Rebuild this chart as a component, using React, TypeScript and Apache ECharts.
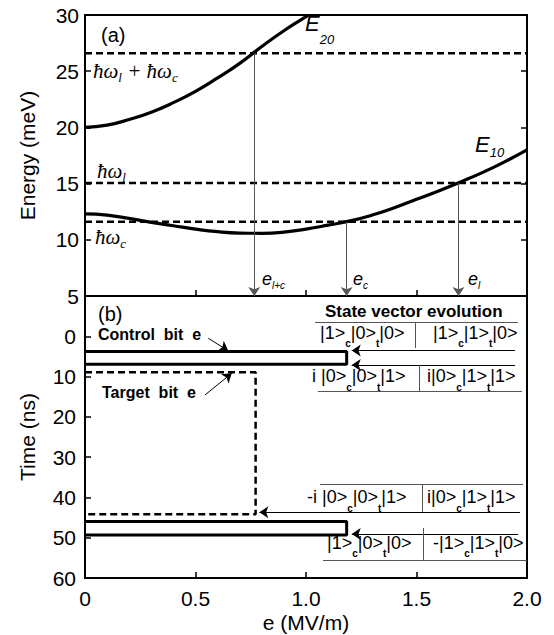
import React, { useEffect, useRef } from "react";
import * as echarts from "echarts";

// ---------- data ----------
const FIELD_E10 = [0, 0.1, 0.2, 0.3, 0.4, 0.5, 0.6, 0.7, 0.8, 0.9, 1.0, 1.1, 1.2, 1.3, 1.4, 1.5, 1.6, 1.7, 1.8, 1.9, 2.0];
const ENERGY_E10 = [12.3, 12.2, 11.9, 11.55, 11.25, 10.95, 10.72, 10.6, 10.58, 10.68, 10.95, 11.3, 11.68, 12.2, 12.85, 13.6, 14.35, 15.15, 16.0, 16.95, 18.0];
const FIELD_E20 = [0, 0.1, 0.2, 0.3, 0.4, 0.5, 0.6, 0.7, 0.8, 0.9, 1.0, 1.01];
const ENERGY_E20 = [20.0, 20.2, 20.7, 21.35, 22.2, 23.2, 24.4, 25.7, 27.2, 28.6, 29.85, 30.0];

// photon energies: ħω_l+ħω_c, ħω_l, ħω_c
const LEVEL_ENERGIES = [26.6, 15.05, 11.6];
// resonance fields e_{l+c}, e_c, e_l and the energies they start from
const RESONANCE_FIELDS = [0.766, 1.184, 1.69];
const RESONANCE_ENERGIES = [26.6, 11.6, 15.05];

const ENERGY_TICKS = [5, 30, 5]; // min, max, step
const TIME_TICKS = [-10, 60, 10];
const FIELD_TICKS = [0, 2, 0.5];

// pulses: [field e, time t]
const CONTROL_PULSE_A = [[0, 3.8], [1.184, 3.8], [1.184, 6.95], [0, 6.95]];
const TARGET_PULSE = [[0, 8.95], [0.772, 8.95], [0.772, 44.2], [0, 44.2]];
const CONTROL_PULSE_B = [[0, 46.0], [1.184, 46.0], [1.184, 49.3], [0, 49.3]];

const PULSE_ARROWS = [
  [[1.946, 3.55], [1.207, 3.55]],
  [[1.946, 7.1], [1.207, 7.1]],
  [[1.968, 43.7], [0.789, 43.7]],
  [[1.96, 49.1], [1.207, 49.1]],
];
const LABEL_ARROWS = [
  [[0.558, 0.5], [0.648, 3.57]],
  [[0.543, 14.57], [0.664, 9.18]],
];
const TABLE_RULES = [
  [[1.041, -3.38], [1.959, -3.38]],
  [[1.054, 13.75], [1.977, 13.75]],
  [[1.063, 36.73], [1.982, 36.73]],
  [[1.077, 55.5], [2.0, 55.5]],
  [[1.496, -3.38], [1.496, 2.9]],
  [[1.511, 7.1], [1.511, 13.75]],
  [[1.525, 36.73], [1.525, 43.6]],
  [[1.531, 47.6], [1.531, 55.5]],
];

// ---------- styles ----------
const SANS = "'Liberation Sans', Arial, Helvetica, sans-serif";
const SERIF = "'Liberation Serif', 'Times New Roman', serif";

function zip(xs: number[], ys: number[]) {
  return xs.map((x, i) => [x, ys[i]]);
}

type RichOpts = { family: string; size: number; subSize: number; drop: number; style?: string; weight?: string; subWeight?: string };

function richText(text: string, x: number, yCenter: number, o: RichOpts): any {
  const subLH = o.size / 2 + o.drop + o.subSize / 2;
  return {
    type: "text",
    silent: true,
    style: {
      text, x, y: yCenter - o.size / 2, align: "left", verticalAlign: "top",
      fontSize: o.size, fontFamily: o.family, fill: "#000",
      rich: {
        m: { fontSize: o.size, fontFamily: o.family, fontStyle: o.style || "normal", fontWeight: o.weight || "normal", fill: "#000", verticalAlign: "top" },
        s: { fontSize: o.subSize, fontFamily: o.family, fontStyle: o.style || "normal", fontWeight: o.subWeight || o.weight || "normal", fill: "#000", verticalAlign: "bottom", lineHeight: subLH },
      },
    },
  };
}

function plainText(text: string, x: number, yCenter: number, size: number, weight = "normal"): any {
  return {
    type: "text",
    silent: true,
    style: { text, x, y: yCenter, align: "left", verticalAlign: "middle", fontSize: size, fontFamily: SANS, fontWeight: weight, fill: "#000" },
  };
}

const KET: RichOpts = { family: SANS, size: 18, subSize: 10, drop: 11, subWeight: "bold" };
const HBAR: RichOpts = { family: SERIF, size: 21, subSize: 13, drop: 6, style: "italic" };
const ELAB: RichOpts = { family: SANS, size: 18, subSize: 10, drop: 6, style: "italic" };

export default function App() {
  const ref = useRef<HTMLDivElement>(null);

  useEffect(() => {
    if (!ref.current) return;
    const chart = echarts.init(ref.current, null, { renderer: "svg" });

    const axisLabel = { color: "#000", fontSize: 21, fontFamily: SANS };
    const tickIn = { show: true, inside: true, length: 6, lineStyle: { color: "#000", width: 1.5 } };
    const noLine = { show: false, onZero: false };

    const lineSeries = (data: number[][], gi: number, width: number, dashed: boolean, smooth = false) => ({
      type: "line", xAxisIndex: gi, yAxisIndex: gi, data, smooth, showSymbol: false, symbol: "none", silent: true,
      lineStyle: { color: "#000", width, type: dashed ? [7, 4] : "solid" }, z: 3,
    });

    const linesSeries = (segs: number[][][], gi: number, color: string, arrow: boolean) => ({
      type: "lines", coordinateSystem: "cartesian2d", xAxisIndex: gi, yAxisIndex: gi, silent: true,
      symbol: arrow ? ["none", "arrow"] : ["none", "none"], symbolSize: arrow ? 9 : 0,
      lineStyle: { color, width: 1, opacity: 1, curveness: 0 },
      data: segs.map((c) => ({ coords: c })), z: 4,
    });

    const resonanceSegs = RESONANCE_FIELDS.map((e, i) => [[e, RESONANCE_ENERGIES[i]], [e, ENERGY_TICKS[0]]]);

    const option: any = {
      animation: false,
      grid: [
        { left: 85, right: 27, top: 15, height: 281, show: true, borderColor: "#000", borderWidth: 2 },
        { left: 85, right: 27, top: 296, height: 282, show: true, borderColor: "#000", borderWidth: 2 },
      ],
      xAxis: [
        {
          gridIndex: 0, type: "value", position: "bottom", min: FIELD_TICKS[0], max: FIELD_TICKS[1], interval: FIELD_TICKS[2],
          axisLine: noLine, axisTick: tickIn, axisLabel: { show: false }, splitLine: { show: false },
        },
        {
          gridIndex: 1, type: "value", position: "bottom", min: FIELD_TICKS[0], max: FIELD_TICKS[1], interval: FIELD_TICKS[2],
          axisLine: noLine, axisTick: tickIn, splitLine: { show: false },
          axisLabel: { ...axisLabel, margin: 10, formatter: (v: number) => (v === 0 ? "0" : v.toFixed(1)) },
          name: "e (MV/m)", nameLocation: "middle", nameGap: 34, nameTextStyle: { color: "#000", fontSize: 21, fontFamily: SANS },
        },
      ],
      yAxis: [
        {
          gridIndex: 0, type: "value", position: "left", min: ENERGY_TICKS[0], max: ENERGY_TICKS[1], interval: ENERGY_TICKS[2],
          axisLine: noLine, axisTick: tickIn, splitLine: { show: false },
          axisLabel: { ...axisLabel, margin: 6 },
          name: "Energy (meV)", nameLocation: "middle", nameGap: 47, nameTextStyle: { color: "#000", fontSize: 21, fontFamily: SANS },
        },
        {
          gridIndex: 1, type: "value", position: "left", min: TIME_TICKS[0], max: TIME_TICKS[1], interval: TIME_TICKS[2], inverse: true,
          axisLine: noLine, axisTick: tickIn, splitLine: { show: false },
          axisLabel: { ...axisLabel, margin: 9, formatter: (v: number) => (v === TIME_TICKS[0] ? "" : String(v)) },
          name: "Time (ns)", nameLocation: "middle", nameGap: 47, nameTextStyle: { color: "#000", fontSize: 21, fontFamily: SANS },
        },
        {
          gridIndex: 0, type: "value", position: "right", min: ENERGY_TICKS[0], max: ENERGY_TICKS[1], interval: ENERGY_TICKS[2],
          axisLine: noLine, axisTick: tickIn, axisLabel: { show: false }, splitLine: { show: false },
        },
      ],
      series: [
        lineSeries(zip(FIELD_E20, ENERGY_E20), 0, 3.2, false, true),
        lineSeries(zip(FIELD_E10, ENERGY_E10), 0, 3.2, false, true),
        ...LEVEL_ENERGIES.map((L) => lineSeries([[FIELD_TICKS[0], L], [FIELD_TICKS[1], L]], 0, 2.6, true)),
        linesSeries(resonanceSegs, 0, "#555", true),
        lineSeries(CONTROL_PULSE_A, 1, 3, false),
        lineSeries(TARGET_PULSE, 1, 2.5, true),
        lineSeries(CONTROL_PULSE_B, 1, 3, false),
        linesSeries(PULSE_ARROWS, 1, "#000", true),
        linesSeries(LABEL_ARROWS, 1, "#000", true),
        linesSeries(TABLE_RULES, 1, "#555", false),
      ],
      graphic: [
        plainText("(a)", 101, 35, 20),
        plainText("(b)", 98, 314, 20),
        richText("{m|E}{s|20}", 305, 23.5, { family: SANS, size: 22, subSize: 13, drop: 16, style: "italic" }),
        richText("{m|E}{s|10}", 475, 144.5, { family: SANS, size: 22, subSize: 13, drop: 8, style: "italic" }),
        richText("{m|ħω}{s|l}{m| + ħω}{s|c}", 93, 71, HBAR),
        richText("{m|ħω}{s|l}", 97, 171, HBAR),
        richText("{m|ħω}{s|c}", 95, 237, HBAR),
        richText("{m|e}{s|l+c}", 262, 279, ELAB),
        richText("{m|e}{s|c}", 353, 279, ELAB),
        richText("{m|e}{s|l}", 468, 279, ELAB),
        plainText("Control\u00A0 bit\u00A0 e", 98, 334, 16, "bold"),
        plainText("Target\u00A0 bit\u00A0 e", 102, 392, 16, "bold"),
        plainText("State vector evolution", 325, 311, 17, "bold"),
        richText("{m||1>}{s|c}{m||0>}{s|t}{m||0>}", 320, 332.5, KET),
        richText("{m||1>}{s|c}{m||1>}{s|t}{m||0>}", 433, 332.5, KET),
        richText("{m|i |0>}{s|c}{m||0>}{s|t}{m||1>}", 312, 376, KET),
        richText("{m|i|0>}{s|c}{m||1>}{s|t}{m||1>}", 427, 376, KET),
        richText("{m|-i |0>}{s|c}{m||0>}{s|t}{m||1>}", 307, 497, KET),
        richText("{m|i|0>}{s|c}{m||1>}{s|t}{m||1>}", 427, 497, KET),
        richText("{m||1>}{s|c}{m||0>}{s|t}{m||0>}", 327, 542.5, KET),
        richText("{m|-|1>}{s|c}{m||1>}{s|t}{m||0>}", 433, 542.5, KET),
      ],
    };

    chart.setOption(option);
    return () => chart.dispose();
  }, []);

  return <div ref={ref} style={{ position: "fixed", left: 0, top: 0, width: 554, height: 635, background: "#fff" }} />;
}
